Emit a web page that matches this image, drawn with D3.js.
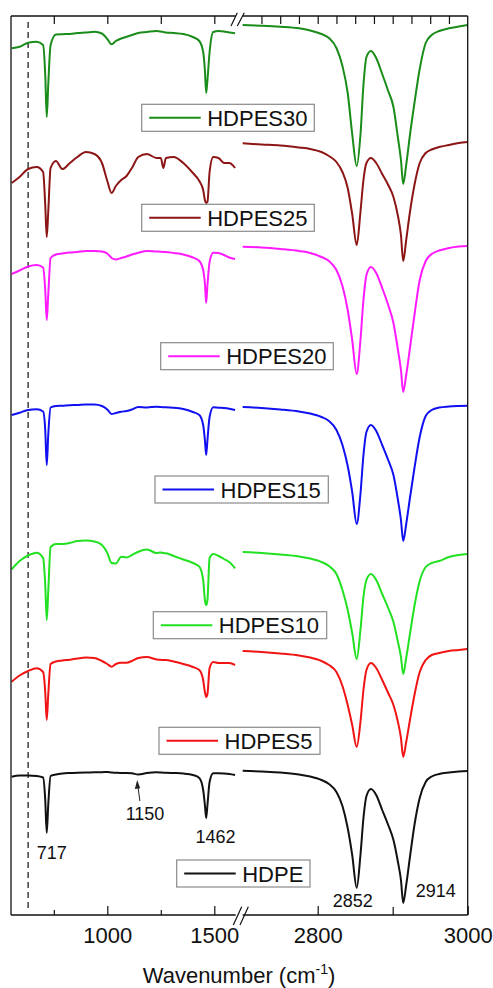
<!DOCTYPE html>
<html>
<head>
<meta charset="utf-8">
<script src="https://cdn.jsdelivr.net/npm/d3@7"></script>
<style>
  html, body { margin: 0; padding: 0; background: #fff; }
  svg { display: block; }
  text { font-family: "Liberation Sans", Arial, sans-serif; fill: #111; }
</style>
</head>
<body>
<svg id="chart" width="493" height="988"></svg>
<script>
// FTIR spectra of HDPE and HDPE/ES blends, stacked with vertical offsets (a.u.)
// Broken wavenumber axis: 550–1600 cm-1 and 2700–3000 cm-1.

const seriesNames = ["HDPES30", "HDPES25", "HDPES20", "HDPES15", "HDPES10", "HDPES5", "HDPE"];
const seriesColors = ["#1a8c1a", "#8c1616", "#ff1aff", "#1010f0", "#22e022", "#f01414", "#111111"];

// shared wavenumber sampling (cm-1)
const wnLeft = [553, 590, 630, 670, 700, 710, 717, 724, 735, 760, 790, 825, 860, 900, 940, 975, 1000, 1020, 1040, 1065,
  1090, 1115, 1145, 1185, 1230, 1250, 1262, 1274, 1310, 1355, 1400, 1430, 1448, 1456, 1462, 1468, 1478, 1495, 1520, 1545, 1570, 1597];
const wnRight = [2700, 2725, 2750, 2775, 2790, 2805, 2815, 2825, 2833, 2840, 2846, 2852, 2857, 2861, 2865, 2871, 2878,
  2886, 2894, 2901, 2907, 2911, 2914, 2918, 2923, 2929, 2936, 2944, 2952, 2962, 2975, 2988, 3000];

// offset transmittance, low-wavenumber region
const hdpes30Left = [867.7, 869.3, 873.3, 874.3, 871, 841, 799, 831, 871, 881.5, 881.8, 882, 883, 883.5, 884.3, 882.5, 877, 871.7, 875, 877.5,
  879.3, 881, 883, 884, 885, 884.5, 884, 883.5, 883, 882, 879, 875, 864, 846, 823, 836, 864, 884, 885, 884.5, 883.5, 882.7];
const hdpes25Left = [733, 739, 747, 749, 744, 711, 679, 704, 748, 755, 747, 753, 759, 764, 762, 753, 735, 723, 730, 736,
  740, 748, 759, 762, 758, 758, 748, 758, 759, 753, 743, 735, 726, 716, 713, 714, 744, 759, 758, 753, 753, 748];
const hdpes20Left = [642, 645.5, 649.5, 651, 648.5, 626, 596, 621, 658, 661.5, 662.5, 663.5, 664, 665, 665, 664.5, 662.5, 658, 656.5, 658,
  659.5, 661.5, 663.3, 665, 664.5, 664.3, 664, 664, 663, 661.5, 658.5, 655, 646, 633, 613, 631, 654, 663.3, 663, 661, 658.5, 657];
const hdpes15Left = [501, 503.3, 506, 506.7, 504.5, 486, 451, 481, 508.5, 510, 510.3, 510.8, 511, 511.5, 511.5, 510, 506.5, 502, 503, 504.3,
  505, 506.5, 509, 508.5, 509.3, 509, 508.7, 508.7, 508.3, 507, 504, 501, 491, 476, 461, 476, 499, 508.7, 508.3, 508, 507.3, 506];
const hdpes10Left = [346.7, 355, 360.5, 363.3, 358, 331, 296, 324, 369, 372, 372, 373, 375, 375.5, 374.5, 371, 363, 353, 352.5, 359.3,
  358.5, 361, 364.3, 366.5, 363, 363.5, 363, 362.7, 360, 356.5, 353, 349.3, 336, 316, 311, 316, 358, 362, 360, 357, 354, 347.7];
const hdpes5Left = [234.3, 240.5, 245, 247.7, 244, 224, 196, 221, 252, 254.5, 255.5, 256.3, 257.5, 258.5, 258, 255, 252, 249.3, 252, 253.3,
  253.3, 255, 258, 259, 256.5, 256.2, 256, 256, 254.5, 252, 249, 246, 236, 224, 219, 222, 248, 254, 253, 253, 253, 251];
const hdpeLeft = [139.3, 140.5, 140.5, 140, 138.5, 116, 83.3, 111, 140, 141.5, 142.5, 143, 143.3, 143.5, 143.7, 143.8, 144, 143.5, 143.3, 143,
  143, 142.7, 141.5, 143, 143.7, 143.5, 143.3, 143.3, 143, 142.5, 141, 138, 126, 111, 98, 111, 134, 142.7, 142.7, 142.5, 142, 141];

// offset transmittance, C–H stretching region
const hdpes30Right = [891, 890.3, 889.3, 887.7, 885.5, 882, 878, 868, 850, 823, 782, 750, 781, 831, 859, 865, 858,
  842, 825, 809, 778, 756, 732, 751, 781, 813, 847, 873, 881, 885, 887.7, 889.5, 891];
const hdpes25Right = [772.7, 771.5, 770.5, 768.5, 767, 764, 760, 754, 744, 728, 702, 671, 704, 736, 753, 758, 753,
  742, 731, 719, 700, 681, 655, 676, 704, 731, 753, 763, 766.5, 769, 771, 773, 774];
const hdpes20Right = [669.3, 668.5, 667, 665, 663, 659, 655, 646, 630, 606, 576, 542, 576, 616, 641, 649, 643,
  628, 611, 593, 566, 546, 524, 541, 568, 601, 636, 655, 662, 665.5, 668, 669.5, 670];
const hdpes15Right = [509, 508, 506.5, 504.5, 502.5, 499, 495, 486, 471, 450, 424, 392, 422, 461, 484, 491, 485,
  471, 456, 441, 416, 396, 375, 392, 418, 448, 479, 500, 506, 508.5, 509.5, 510, 510.3];
const hdpes10Right = [364, 363, 361.5, 359.5, 357.5, 354, 350, 342, 326, 306, 283, 257, 286, 319, 336, 342, 336,
  322, 308, 294, 274, 259, 242, 258, 282, 310, 335, 349, 353, 355, 359, 361, 362];
const hdpes5Right = [265, 264, 262.5, 260.5, 258.5, 255, 251, 244, 230, 211, 191, 169, 194, 226, 246, 253, 248,
  236, 223, 211, 194, 178, 159, 174, 196, 221, 244, 256, 261, 263, 265, 266, 267];
const hdpeRight = [145.3, 144.5, 143.5, 141.5, 139.5, 136, 132, 124, 110, 88, 61, 28.3, 61, 98, 120, 127, 121,
  106, 91, 76, 54, 36, 13, 31, 59, 91, 118, 134, 139.5, 142, 143.5, 144.5, 145];

// axis ticks
const bottomLeftMajor = [1000, 1500];
const bottomLeftMinor = [750, 1250];
const bottomRightMajor = [2800, 3000];
const bottomRightMinor = [2900];
const topLeftTicks = [750, 1000, 1250, 1500];
const topRightTicks = [2725, 2750, 2775, 2800, 2825, 2850, 2875, 2900, 2925, 2950, 2975];

// peak annotations (cm-1)
const peakLabels = [717, 1150, 1462, 2852, 2914];
const referenceLine = 630;

// ---- layout ----
const W = 493, H = 988;
const plot = { left: 11, right: 467.7, top: 16, bottom: 915 };
const svg = d3.select("#chart");
svg.append("rect").attr("width", W).attr("height", H).attr("fill", "#fff");

const xLeft = d3.scaleLinear().domain([550, 1600]).range([plot.left, 235.7]);
const xRight = d3.scaleLinear().domain([2700, 3000]).range([242.7, plot.right]);
const y = d3.scaleLinear().domain([0, 900]).range([916, 16]);

const leftData = [hdpes30Left, hdpes25Left, hdpes20Left, hdpes15Left, hdpes10Left, hdpes5Left, hdpeLeft];
const rightData = [hdpes30Right, hdpes25Right, hdpes20Right, hdpes15Right, hdpes10Right, hdpes5Right, hdpeRight];

const series = seriesNames.map((name, i) => ({
  name,
  color: seriesColors[i],
  left: wnLeft.map((w, j) => [w, leftData[i][j]]),
  right: wnRight.map((w, j) => [w, rightData[i][j]])
}));

// dashed reference line
svg.append("line")
  .attr("x1", xLeft(referenceLine)).attr("x2", xLeft(referenceLine))
  .attr("y1", plot.top + 6).attr("y2", plot.bottom - 3)
  .attr("stroke", "#222").attr("stroke-width", 1.3)
  .attr("stroke-dasharray", "6,4");

// spectra
const lineL = d3.line().x(d => xLeft(d[0])).y(d => y(d[1])).curve(d3.curveMonotoneX);
const lineR = d3.line().x(d => xRight(d[0])).y(d => y(d[1])).curve(d3.curveMonotoneX);
const gSpec = svg.append("g").attr("fill", "none").attr("stroke-width", 2).attr("stroke-linejoin", "round");
series.forEach(s => {
  gSpec.append("path").attr("d", lineL(s.left)).attr("stroke", s.color);
  gSpec.append("path").attr("d", lineR(s.right)).attr("stroke", s.color);
});

// axes
function styleAxis(g) {
  g.select(".domain").remove();
  g.selectAll(".tick line").attr("stroke", "#111").attr("stroke-width", 1.2);
  g.selectAll(".tick text").attr("font-size", 22).attr("fill", "#111")
    .style("font-family", '"Liberation Sans", Arial, sans-serif');
}
const fmt = d3.format("d");
svg.append("g").attr("transform", `translate(0,${plot.bottom})`)
  .call(d3.axisBottom(xLeft).tickValues(bottomLeftMajor).tickFormat(fmt).tickSizeInner(-9).tickSizeOuter(0).tickPadding(12)).call(styleAxis);
svg.append("g").attr("transform", `translate(0,${plot.bottom})`)
  .call(d3.axisBottom(xLeft).tickValues(bottomLeftMinor).tickFormat("").tickSizeInner(-5).tickSizeOuter(0)).call(styleAxis);
svg.append("g").attr("transform", `translate(0,${plot.bottom})`)
  .call(d3.axisBottom(xRight).tickValues(bottomRightMajor).tickFormat(fmt).tickSizeInner(-9).tickSizeOuter(0).tickPadding(12)).call(styleAxis);
svg.append("g").attr("transform", `translate(0,${plot.bottom})`)
  .call(d3.axisBottom(xRight).tickValues(bottomRightMinor).tickFormat("").tickSizeInner(-8).tickSizeOuter(0)).call(styleAxis);
svg.append("g").attr("transform", `translate(0,${plot.top})`)
  .call(d3.axisTop(xLeft).tickValues(topLeftTicks).tickFormat("").tickSizeInner(-8).tickSizeOuter(0)).call(styleAxis);
svg.append("g").attr("transform", `translate(0,${plot.top})`)
  .call(d3.axisTop(xRight).tickValues(topRightTicks).tickFormat("").tickSizeInner(-8).tickSizeOuter(0)).call(styleAxis);

// frame with axis break
const frame = svg.append("g").attr("stroke", "#111").attr("stroke-width", 1.3).attr("fill", "none");
frame.append("line").attr("x1", plot.left).attr("x2", plot.left).attr("y1", plot.top).attr("y2", plot.bottom);
frame.append("line").attr("x1", plot.right).attr("x2", plot.right).attr("y1", plot.top).attr("y2", plot.bottom);
[plot.top, plot.bottom].forEach(yy => {
  frame.append("line").attr("x1", plot.left).attr("x2", xLeft(1600)).attr("y1", yy).attr("y2", yy);
  frame.append("line").attr("x1", xRight(2700)).attr("x2", plot.right).attr("y1", yy).attr("y2", yy);
});
// break slashes
const brk = svg.append("g").attr("stroke", "#111").attr("stroke-width", 1.2);
[[233.3, 925, 241.7, 906.7], [240, 925, 248.3, 906.7], [231, 26, 237.3, 12.7], [237.3, 26, 244.3, 12.7]]
  .forEach(([x1, y1, x2, y2]) => {
    brk.append("line").attr("x1", x1).attr("y1", y1).attr("x2", x2).attr("y2", y2);
  });

// axis title
const title = svg.append("text").attr("x", 239).attr("y", 983).attr("text-anchor", "middle").attr("font-size", 22);
title.append("tspan").text("Wavenumber (cm");
title.append("tspan").attr("font-size", 14).attr("dy", -9).text("-1");
title.append("tspan").attr("dy", 9).text(")");

// peak annotations
const ann = svg.append("g").attr("font-size", 18).attr("text-anchor", "middle");
ann.append("text").attr("x", xLeft(peakLabels[0]) + 5).attr("y", 859).text(peakLabels[0]);
ann.append("text").attr("x", xLeft(peakLabels[1]) + 5.6).attr("y", 820).text(peakLabels[1]);
ann.append("text").attr("x", xLeft(peakLabels[2]) + 9.3).attr("y", 843).text(peakLabels[2]);
ann.append("text").attr("x", xRight(peakLabels[3]) - 4).attr("y", 907).text(peakLabels[3]);
ann.append("text").attr("x", xRight(peakLabels[4]) + 32.6).attr("y", 897).text(peakLabels[4]);
// arrow marking the weak 1150 band
const ax = xLeft(peakLabels[1]);
svg.append("line").attr("x1", ax + 0.5).attr("y1", 801).attr("x2", ax - 1.4).attr("y2", 787)
  .attr("stroke", "#222").attr("stroke-width", 1);
svg.append("path").attr("d", `M${ax - 2.2},780 L${ax - 4.6},789 L${ax + 0.8},788.3 Z`).attr("fill", "#222");

// legends, one boxed entry next to each spectrum
const legendBoxes = [
  [141.7, 104.3, 314.3], [141.7, 204.3, 314.3], [160.7, 342.7, 333.3], [155, 476, 328.3],
  [153.3, 611.7, 326.7], [159, 727.3, 320], [176.7, 860, 310]
];
series.forEach((s, i) => {
  const [bx, by, br] = legendBoxes[i];
  const bh = 27;
  const g = svg.append("g");
  g.append("rect").attr("x", bx).attr("y", by).attr("width", br - bx).attr("height", bh)
    .attr("fill", "#fff").attr("stroke", "#8a8a8a").attr("stroke-width", 1.2);
  g.append("line").attr("x1", bx + 7.5).attr("x2", bx + 59).attr("y1", by + bh / 2).attr("y2", by + bh / 2)
    .attr("stroke", s.color).attr("stroke-width", 2);
  g.append("text").attr("x", bx + 65.5).attr("y", by + bh / 2 + 8).attr("font-size", 22).text(s.name);
});
</script>
</body>
</html>
